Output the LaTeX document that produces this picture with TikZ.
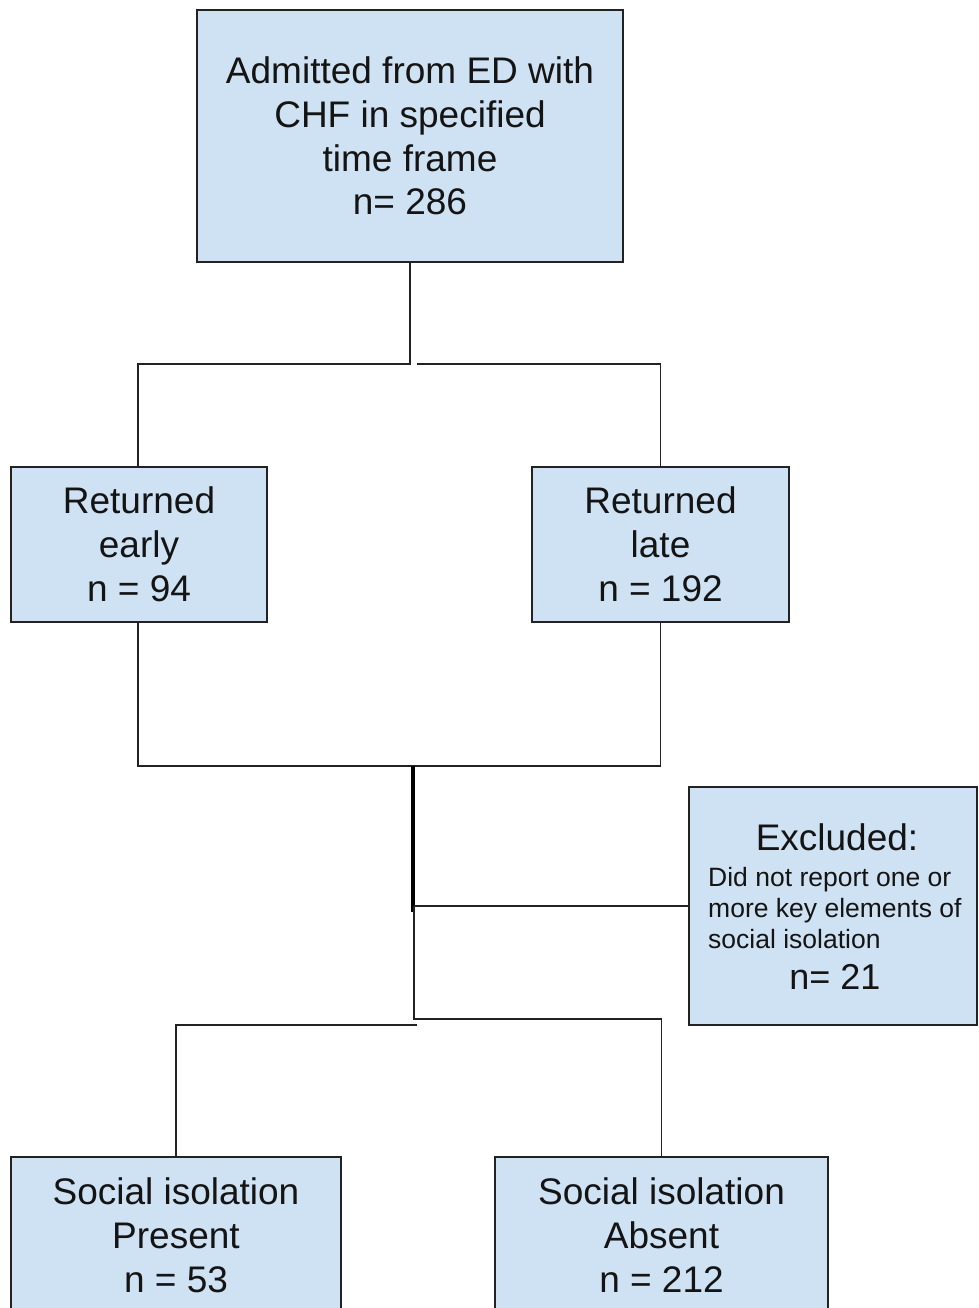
\documentclass[tikz,border=0pt]{standalone}
\usepackage{fontspec}
\setmainfont{Liberation Sans}
\definecolor{boxfill}{RGB}{207,226,243}
\definecolor{boxline}{RGB}{34,34,34}
\definecolor{txt}{RGB}{20,20,20}
\begin{document}
\begin{tikzpicture}[x=1pt,y=-1pt,
  box/.style={draw=boxline, fill=boxfill, line width=1.6pt, inner sep=0pt, outer sep=0pt,
    align=center, text=txt, anchor=north west,
    font=\fontsize{37}{43.8}\selectfont},
  conn/.style={draw=boxline, line width=1.8pt},
  thickconn/.style={draw=black, line width=3.4pt},
  bigtxt/.style={inner sep=0pt, text=txt, font=\fontsize{37}{43}\selectfont},
  smalltxt/.style={inner sep=0pt, text=txt, anchor=base west, font=\fontsize{26.5}{31}\selectfont}
]
\useasboundingbox (0,0) rectangle (978,1308);
\fill[white] (0,0) rectangle (978,1308);

% boxes
\node[box, minimum width=426, minimum height=252] (top) at (197,10)
  {Admitted from ED with\\CHF in specified\\time frame\\n= 286};
\node[box, minimum width=256, minimum height=155] (early) at (11,467)
  {Returned\\early\\n = 94};
\node[box, minimum width=257, minimum height=155] (late) at (532,467)
  {Returned\\late\\n = 192};
\node[box, minimum width=288, minimum height=238] (exc) at (689,787) {};
\node[bigtxt, anchor=base] (exct) at (837,850) {Excluded:};
\node[smalltxt] (excd1) at (708,886) {Did not report one or};
\node[smalltxt] (excd2) at (708,917) {more key elements of};
\node[smalltxt] (excd3) at (708,948) {social isolation};
\node[bigtxt, anchor=base, font=\fontsize{36}{43}\selectfont] (excn) at (835,989) {n= 21};
\node[box, minimum width=330, minimum height=156] (present) at (11,1157)
  {Social isolation\\Present\\n = 53};
\node[box, minimum width=333, minimum height=156] (absent) at (495,1157)
  {Social isolation\\Absent\\n = 212};

% junction coordinates
\coordinate (j1) at (410,364);
\coordinate (j1r) at (417,364);
\coordinate (j2) at (413,766);
\coordinate (j3) at (414,906);
\coordinate (j3e) at (413,912);
\coordinate (j4) at (414,1019);
\coordinate (j5) at (417,1025);

% connectors
\draw[conn] (top.south) -- (j1) -| ([xshift=-1pt]early.north);
\draw[conn] (j1r) -| (late.north);
\draw[conn] ([xshift=-1pt]early.south) |- (j2) -| (late.south);
\draw[thickconn] (j2) -- (j3e);
\draw[conn] (j3) -- (exc.west);
\draw[conn] (j3) -- (j4) -| (absent.north);
\draw[conn] (j5) -| (present.north);
\end{tikzpicture}
\end{document}
